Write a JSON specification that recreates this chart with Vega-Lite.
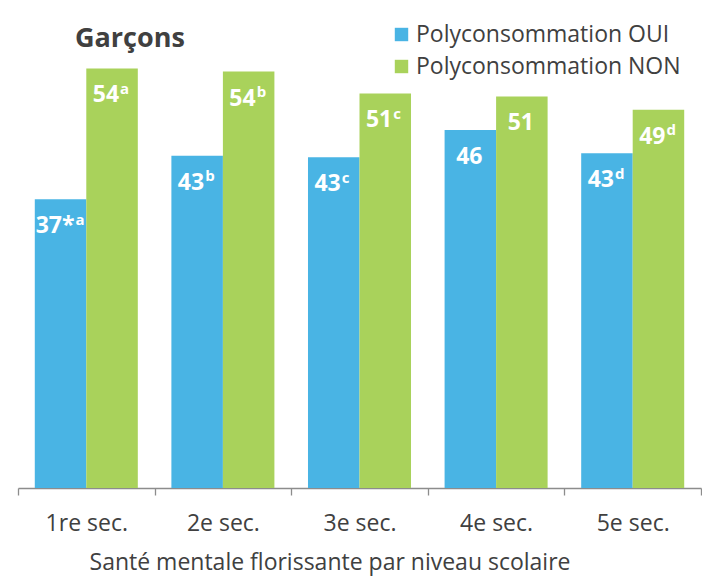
{
  "$schema": "https://vega.github.io/schema/vega-lite/v6.json",
  "width": 683,
  "height": 467,
  "autosize": {"type": "none"},
  "padding": {"left": 18, "top": 21, "right": 1, "bottom": 96},
  "background": "white",
  "config": {"view": {"stroke": null}, "font": "Open Sans"},
  "title": {
    "text": "Garçons",
    "anchor": "start",
    "frame": "group",
    "dx": 57,
    "offset": -53,
    "baseline": "alphabetic",
    "fontSize": 27,
    "fontWeight": "bold",
    "font": "Open Sans",
    "color": "#404040"
  },
  "data": {
    "values": [
      {"niveau": "1re sec.", "groupe": "Polyconsommation OUI", "pct": 37.1, "num": "37*", "sup": "a"},
      {"niveau": "1re sec.", "groupe": "Polyconsommation NON", "pct": 53.9, "num": "54", "sup": "a"},
      {"niveau": "2e sec.", "groupe": "Polyconsommation OUI", "pct": 42.7, "num": "43", "sup": "b"},
      {"niveau": "2e sec.", "groupe": "Polyconsommation NON", "pct": 53.5, "num": "54", "sup": "b"},
      {"niveau": "3e sec.", "groupe": "Polyconsommation OUI", "pct": 42.5, "num": "43", "sup": "c"},
      {"niveau": "3e sec.", "groupe": "Polyconsommation NON", "pct": 50.7, "num": "51", "sup": "c"},
      {"niveau": "4e sec.", "groupe": "Polyconsommation OUI", "pct": 46.0, "num": "46", "sup": ""},
      {"niveau": "4e sec.", "groupe": "Polyconsommation NON", "pct": 50.3, "num": "51", "sup": ""},
      {"niveau": "5e sec.", "groupe": "Polyconsommation OUI", "pct": 43.0, "num": "43", "sup": "d"},
      {"niveau": "5e sec.", "groupe": "Polyconsommation NON", "pct": 48.6, "num": "49", "sup": "d"}
    ]
  },
  "encoding": {
    "x": {
      "field": "niveau",
      "type": "nominal",
      "sort": null,
      "scale": {"paddingInner": 0, "paddingOuter": 0},
      "axis": {
        "title": "Santé mentale florissante par niveau scolaire",
        "labelAngle": 0,
        "tickBand": "extent",
        "domainColor": "#8c8c8c",
        "domainWidth": 1.3,
        "tickColor": "#8c8c8c",
        "tickWidth": 1.3,
        "tickSize": 7,
        "labelFont": "Open Sans",
        "labelFontSize": 23,
        "labelColor": "#404040",
        "labelBaseline": "alphabetic",
        "labelPadding": 35.7,
        "titleFont": "Open Sans",
        "titleFontSize": 23,
        "titleFontWeight": "normal",
        "titleColor": "#404040",
        "titleX": 311.5,
        "titleY": 81,
        "titleAlign": "center",
        "titleBaseline": "alphabetic"
      }
    },
    "xOffset": {
      "field": "groupe",
      "type": "nominal",
      "sort": ["Polyconsommation OUI", "Polyconsommation NON"],
      "scale": {"paddingInner": 0, "paddingOuter": 0.326}
    },
    "y": {
      "field": "pct",
      "type": "quantitative",
      "scale": {"domain": [0, 60], "nice": false},
      "axis": null
    }
  },
  "layer": [
    {
      "mark": {"type": "bar"},
      "encoding": {
        "color": {
          "field": "groupe",
          "type": "nominal",
          "sort": ["Polyconsommation OUI", "Polyconsommation NON"],
          "scale": {"domain": ["Polyconsommation OUI", "Polyconsommation NON"], "range": ["#49B4E4", "#A9D25B"]},
          "legend": {
            "title": null,
            "orient": "none",
            "legendX": 372,
            "legendY": 2,
            "symbolType": "square",
            "symbolSize": 180,
            "symbolStrokeWidth": 0,
            "labelFont": "Open Sans",
            "labelFontSize": 23,
            "labelColor": "#404040",
            "labelOffset": 3,
            "rowPadding": 8,
            "labelLimit": 400
          }
        }
      }
    },
    {
      "transform": [{"filter": "datum.sup != '' && datum.num != '37*'"}],
      "mark": {"type": "text", "align": "right", "baseline": "alphabetic", "dx": 7, "dy": 34, "color": "white", "fontWeight": "bold", "fontSize": 23, "font": "Open Sans"},
      "encoding": {"text": {"field": "num"}}
    },
    {
      "transform": [{"filter": "datum.sup != '' && datum.num != '37*'"}],
      "mark": {"type": "text", "align": "left", "baseline": "alphabetic", "dx": 8, "dy": 25.5, "color": "white", "fontWeight": "bold", "fontSize": 15, "font": "Open Sans"},
      "encoding": {"text": {"field": "sup"}}
    },
    {
      "transform": [{"filter": "datum.num == '37*'"}],
      "mark": {"type": "text", "align": "right", "baseline": "alphabetic", "dx": 14, "dy": 34, "color": "white", "fontWeight": "bold", "fontSize": 23, "font": "Open Sans"},
      "encoding": {"text": {"field": "num"}}
    },
    {
      "transform": [{"filter": "datum.num == '37*'"}],
      "mark": {"type": "text", "align": "left", "baseline": "alphabetic", "dx": 15, "dy": 25.5, "color": "white", "fontWeight": "bold", "fontSize": 15, "font": "Open Sans"},
      "encoding": {"text": {"field": "sup"}}
    },
    {
      "transform": [{"filter": "datum.sup == ''"}],
      "mark": {"type": "text", "align": "center", "baseline": "alphabetic", "dx": -1, "dy": 34, "color": "white", "fontWeight": "bold", "fontSize": 23, "font": "Open Sans"},
      "encoding": {"text": {"field": "num"}}
    }
  ]
}
